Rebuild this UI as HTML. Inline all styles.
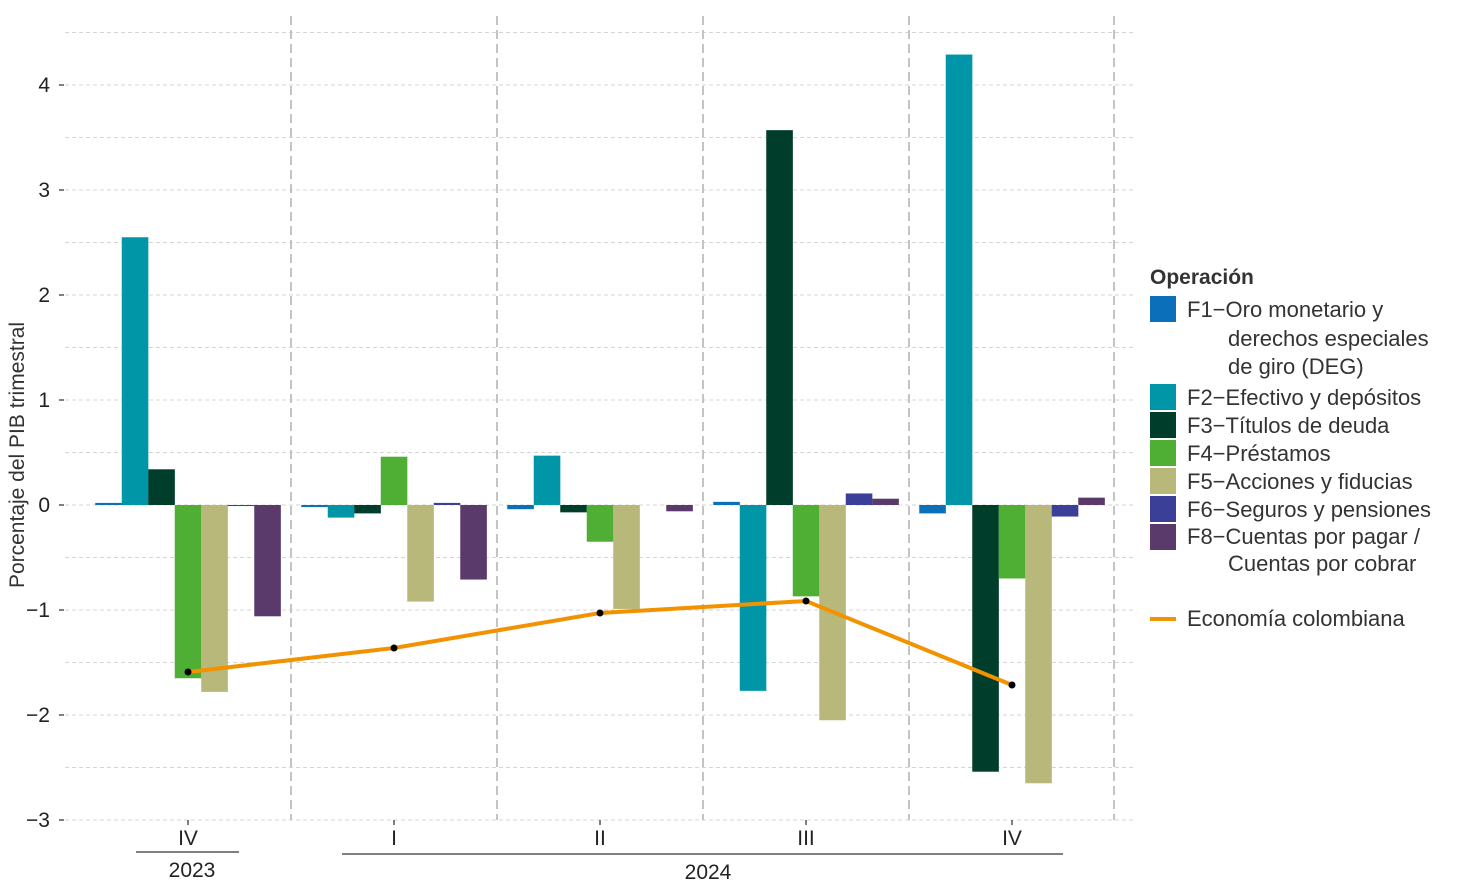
<!DOCTYPE html>
<html><head><meta charset="utf-8"><style>
body{margin:0;background:#fff}
svg text{font-family:"Liberation Sans",sans-serif}
</style></head><body>
<svg width="1480" height="880" xmlns="http://www.w3.org/2000/svg">
<g stroke="#d4d4d4" stroke-dasharray="4,3" stroke-width="1">
<line x1="65" x2="1135" y1="32.5" y2="32.5"/>
<line x1="65" x2="1135" y1="85" y2="85"/>
<line x1="65" x2="1135" y1="137.5" y2="137.5"/>
<line x1="65" x2="1135" y1="190" y2="190"/>
<line x1="65" x2="1135" y1="242.5" y2="242.5"/>
<line x1="65" x2="1135" y1="295" y2="295"/>
<line x1="65" x2="1135" y1="347.5" y2="347.5"/>
<line x1="65" x2="1135" y1="400" y2="400"/>
<line x1="65" x2="1135" y1="452.5" y2="452.5"/>
<line x1="65" x2="1135" y1="505" y2="505"/>
<line x1="65" x2="1135" y1="557.5" y2="557.5"/>
<line x1="65" x2="1135" y1="610" y2="610"/>
<line x1="65" x2="1135" y1="662.5" y2="662.5"/>
<line x1="65" x2="1135" y1="715" y2="715"/>
<line x1="65" x2="1135" y1="767.5" y2="767.5"/>
<line x1="65" x2="1135" y1="820" y2="820"/>
</g>
<g stroke="#c4c4c4" stroke-dasharray="9,5" stroke-width="2">
<line x1="291" x2="291" y1="16" y2="820"/>
<line x1="497" x2="497" y1="16" y2="820"/>
<line x1="703" x2="703" y1="16" y2="820"/>
<line x1="909" x2="909" y1="16" y2="820"/>
<line x1="1114" x2="1114" y1="16" y2="820"/>
</g>
<g>
<rect x="95.25" y="502.9" width="26.6" height="2.1" fill="#0b6fba"/>
<rect x="121.75" y="237.25" width="26.6" height="267.75" fill="#0096a8"/>
<rect x="148.25" y="469.3" width="26.6" height="35.7" fill="#003d2a"/>
<rect x="174.75" y="505" width="26.6" height="173.25" fill="#4faf35"/>
<rect x="201.25" y="505" width="26.6" height="186.9" fill="#b8b87a"/>
<rect x="227.75" y="505" width="26.6" height="1.05" fill="#3b3f98"/>
<rect x="254.25" y="505" width="26.6" height="111.3" fill="#5a3a6b"/>

<rect x="301.25" y="505" width="26.6" height="2.1" fill="#0b6fba"/>
<rect x="327.75" y="505" width="26.6" height="12.6" fill="#0096a8"/>
<rect x="354.25" y="505" width="26.6" height="8.4" fill="#003d2a"/>
<rect x="380.75" y="456.7" width="26.6" height="48.3" fill="#4faf35"/>
<rect x="407.25" y="505" width="26.6" height="96.6" fill="#b8b87a"/>
<rect x="433.75" y="502.9" width="26.6" height="2.1" fill="#3b3f98"/>
<rect x="460.25" y="505" width="26.6" height="74.55" fill="#5a3a6b"/>

<rect x="507.25" y="505" width="26.6" height="4.2" fill="#0b6fba"/>
<rect x="533.75" y="455.65" width="26.6" height="49.35" fill="#0096a8"/>
<rect x="560.25" y="505" width="26.6" height="7.35" fill="#003d2a"/>
<rect x="586.75" y="505" width="26.6" height="36.75" fill="#4faf35"/>
<rect x="613.25" y="505" width="26.6" height="103.95" fill="#b8b87a"/>
<rect x="666.25" y="505" width="26.6" height="6.3" fill="#5a3a6b"/>

<rect x="713.25" y="501.85" width="26.6" height="3.15" fill="#0b6fba"/>
<rect x="739.75" y="505" width="26.6" height="185.85" fill="#0096a8"/>
<rect x="766.25" y="130.15" width="26.6" height="374.85" fill="#003d2a"/>
<rect x="792.75" y="505" width="26.6" height="91.35" fill="#4faf35"/>
<rect x="819.25" y="505" width="26.6" height="215.25" fill="#b8b87a"/>
<rect x="845.75" y="493.45" width="26.6" height="11.55" fill="#3b3f98"/>
<rect x="872.25" y="498.7" width="26.6" height="6.3" fill="#5a3a6b"/>

<rect x="919.25" y="505" width="26.6" height="8.4" fill="#0b6fba"/>
<rect x="945.75" y="54.55" width="26.6" height="450.45" fill="#0096a8"/>
<rect x="972.25" y="505" width="26.6" height="266.7" fill="#003d2a"/>
<rect x="998.75" y="505" width="26.6" height="73.5" fill="#4faf35"/>
<rect x="1025.25" y="505" width="26.6" height="278.25" fill="#b8b87a"/>
<rect x="1051.75" y="505" width="26.6" height="11.55" fill="#3b3f98"/>
<rect x="1078.25" y="497.65" width="26.6" height="7.35" fill="#5a3a6b"/>
</g>
<polyline points="188,672 394,648 600,613 806,601 1012,685" fill="none" stroke="#f39200" stroke-width="4"/>
<g fill="#000"><circle cx="188" cy="672" r="3.5"/><circle cx="394" cy="648" r="3.5"/><circle cx="600" cy="613" r="3.5"/><circle cx="806" cy="601" r="3.5"/><circle cx="1012" cy="685" r="3.5"/></g>
<g font-size="21" text-anchor="end" fill="#222">
<text x="50" y="92">4</text><text x="50" y="197">3</text><text x="50" y="302">2</text><text x="50" y="407">1</text><text x="50" y="512">0</text><text x="50" y="617">−1</text><text x="50" y="722">−2</text><text x="50" y="827">−3</text>
</g>
<g stroke="#555" stroke-width="1.5">
<line x1="59" x2="64" y1="85" y2="85"/><line x1="59" x2="64" y1="190" y2="190"/><line x1="59" x2="64" y1="295" y2="295"/><line x1="59" x2="64" y1="400" y2="400"/><line x1="59" x2="64" y1="505" y2="505"/><line x1="59" x2="64" y1="610" y2="610"/><line x1="59" x2="64" y1="715" y2="715"/><line x1="59" x2="64" y1="820" y2="820"/>
<line x1="188" x2="188" y1="820" y2="825"/><line x1="394" x2="394" y1="820" y2="825"/><line x1="600" x2="600" y1="820" y2="825"/><line x1="806" x2="806" y1="820" y2="825"/><line x1="1012" x2="1012" y1="820" y2="825"/>
<line x1="136" x2="239" y1="852" y2="852"/><line x1="342" x2="1063" y1="854" y2="854"/>
</g>
<g font-size="21" text-anchor="middle" fill="#222">
<text x="188" y="845">IV</text><text x="394" y="845">I</text><text x="600" y="845">II</text><text x="806" y="845">III</text><text x="1012" y="845">IV</text>
<text x="192" y="877">2023</text><text x="708" y="879">2024</text>
</g>
<text transform="translate(24,455) rotate(-90)" font-size="21" text-anchor="middle" fill="#333">Porcentaje del PIB trimestral</text>
<text x="1150" y="284" font-size="21" font-weight="bold" fill="#333">Operación</text>
<g font-size="22" fill="#333">
<rect x="1150" y="296" width="26" height="26" fill="#0b6fba"/>
<text x="1187" y="317">F1−Oro monetario y</text><text x="1228" y="346">derechos especiales</text><text x="1228" y="374">de giro (DEG)</text>
<rect x="1150" y="384" width="26" height="26" fill="#0096a8"/><text x="1187" y="405">F2−Efectivo y depósitos</text>
<rect x="1150" y="412" width="26" height="26" fill="#003d2a"/><text x="1187" y="433">F3−Títulos de deuda</text>
<rect x="1150" y="440" width="26" height="26" fill="#4faf35"/><text x="1187" y="461">F4−Préstamos</text>
<rect x="1150" y="468" width="26" height="26" fill="#b8b87a"/><text x="1187" y="489">F5−Acciones y fiducias</text>
<rect x="1150" y="496" width="26" height="26" fill="#3b3f98"/><text x="1187" y="517">F6−Seguros y pensiones</text>
<rect x="1150" y="524" width="26" height="26" fill="#5a3a6b"/><text x="1187" y="544">F8−Cuentas por pagar /</text><text x="1228" y="571">Cuentas por cobrar</text>
<line x1="1150" x2="1176" y1="619" y2="619" stroke="#f39200" stroke-width="4"/><text x="1187" y="626">Economía colombiana</text>
</g>
</svg>
</body></html>
